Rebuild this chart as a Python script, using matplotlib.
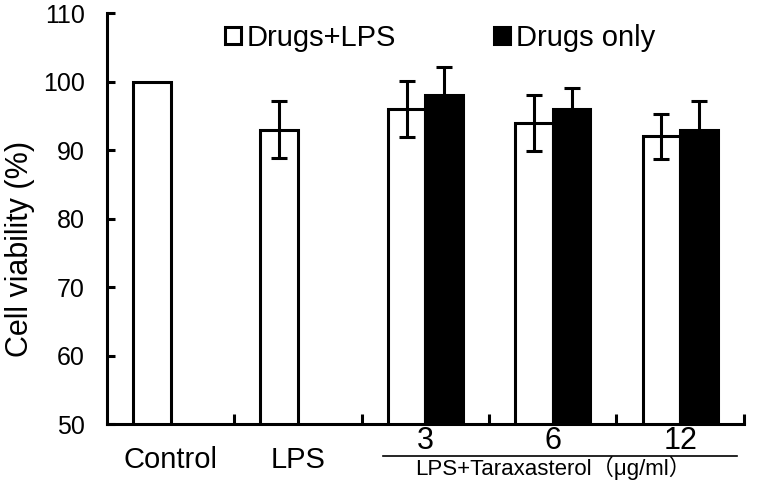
import numpy as np
import matplotlib
matplotlib.use("Agg")
import matplotlib.pyplot as plt
import matplotlib.transforms as mtransforms
from matplotlib.patches import Patch

plt.rcParams['font.family'] = ['Liberation Sans', 'Noto Sans CJK SC', 'DejaVu Sans']

# data
groups = ["Control", "LPS", "3", "6", "12"]
lps_mean = [100, 93, 96, 94, 92]
lps_err = [0, 4.2, 4.1, 4.1, 3.3]
drug_mean = [np.nan, np.nan, 98, 96, 93]
drug_err = [np.nan, np.nan, 4.2, 3.1, 4.2]

fig = plt.figure(figsize=(7.59, 4.88), dpi=100)
ax = fig.add_axes([0.141, 0.131, 0.839, 0.842])

x = np.arange(len(groups))
w = 0.295
lw = 2.2

# bars
ax.bar(x - w / 2, lps_mean, w, color="white", edgecolor="black", linewidth=lw, zorder=2)
ax.bar(x + w / 2, drug_mean, w, color="black", edgecolor="black", linewidth=lw, zorder=2)

# error bars (control has none)
ax.errorbar(x[1:] - w / 2, lps_mean[1:], yerr=lps_err[1:], fmt="none",
            ecolor="black", elinewidth=lw, capsize=5.8, capthick=lw, zorder=3)
ax.errorbar(x + w / 2, drug_mean, yerr=drug_err, fmt="none",
            ecolor="black", elinewidth=lw, capsize=5.8, capthick=lw, zorder=3)

# axes styling
ax.set_xlim(-0.5, len(groups) - 0.5)
ax.set_ylim(50, 110)
ax.set_yticks(np.arange(50, 111, 10))
ax.spines['top'].set_visible(False)
ax.spines['right'].set_visible(False)
ax.spines['left'].set_linewidth(lw)
ax.spines['bottom'].set_linewidth(lw)
ax.tick_params(axis='y', direction='in', length=6, width=lw, labelsize=18, pad=16)
ax.set_xticks(x + 0.5)
ax.set_xticklabels([])
ax.tick_params(axis='x', direction='in', length=7, width=lw)

ax.set_ylabel("Cell viability (%)", fontsize=22)
ax.yaxis.set_label_coords(-0.113, 0.426)

# category labels under the axis
trans = mtransforms.blended_transform_factory(ax.transData, ax.transAxes)
for i, g in enumerate(groups):
    if i < 2:
        ax.text(i, -0.088, g, transform=trans, ha='center', va='center', fontsize=21)
    else:
        ax.text(i, -0.042, g, transform=trans, ha='center', va='center', fontsize=22)

ax.plot([1.67, 4.45], [-0.078, -0.078], transform=trans, color="black",
        linewidth=1.2, clip_on=False)
ax.text(3.0, -0.107, "LPS+Taraxasterol（μg/ml）", transform=trans,
        ha='center', va='center', fontsize=16)

# legend
handles = [Patch(facecolor="white", edgecolor="black", linewidth=lw, label="Drugs+LPS"),
           Patch(facecolor="black", edgecolor="black", linewidth=lw, label="Drugs only")]
ax.legend(handles=handles, ncol=2, loc='center left', bbox_to_anchor=(0.185, 0.94),
          frameon=False, fontsize=21, handlelength=0.55, handleheight=0.55,
          handletextpad=0.2, columnspacing=3.35, borderpad=0, borderaxespad=0)

fig.savefig("out.png", dpi=100)
